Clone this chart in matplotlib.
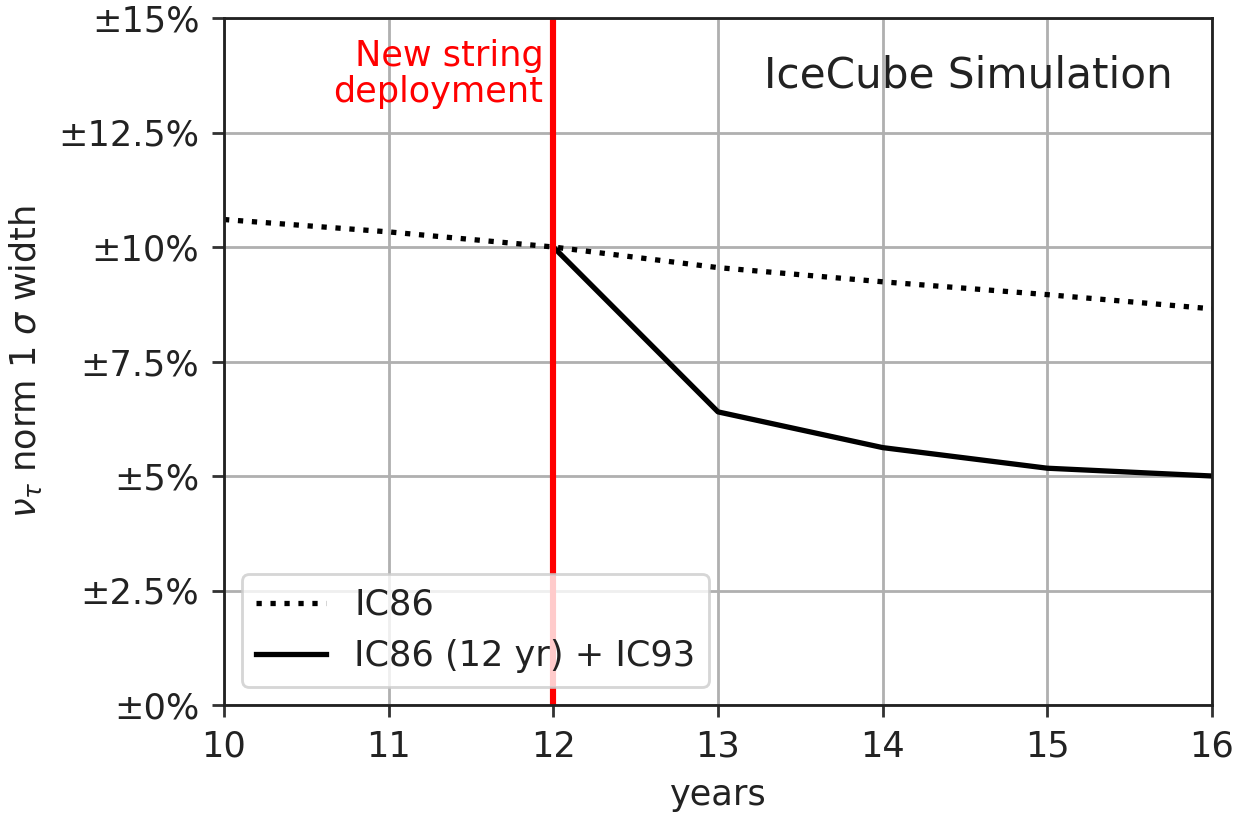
import matplotlib
matplotlib.use("Agg")
import matplotlib.pyplot as plt

years = [10, 11, 12, 13, 14, 15, 16]
ic86 = [10.6, 10.33, 10.0, 9.55, 9.24, 8.96, 8.65]
years_ic93 = [12, 13, 14, 15, 16]
ic86_ic93 = [10.0, 6.4, 5.62, 5.17, 5.0]
yticks = [0, 2.5, 5, 7.5, 10, 12.5, 15]
yticklabels = ["±0%", "±2.5%", "±5%", "±7.5%", "±10%", "±12.5%", "±15%"]
xticks = [10, 11, 12, 13, 14, 15, 16]

k = 2.53
fs = 10 * k
fig = plt.figure(figsize=(12.37, 8.18), dpi=100)
ax = fig.add_axes([224/1237, 1-705/818, (1212-224)/1237, (705-18)/818])

ax.plot(years, ic86, color="black", ls=":", lw=1.5*k, label="IC86")
ax.plot(years_ic93, ic86_ic93, color="black", ls="-", lw=1.5*k, label="IC86 (12 yr) + IC93")
ax.axvline(12, color="red", lw=1.75*k)

ax.set_xlim(10, 16)
ax.set_ylim(0, 15)
ax.set_xticks(xticks)
ax.set_yticks(yticks)
ax.set_yticklabels(yticklabels)
ax.tick_params(labelsize=fs, width=0.8*k, length=3.5*k, pad=3.5*k,
               color="#333333", labelcolor="#222222")
for s in ax.spines.values():
    s.set_linewidth(0.8*k)
    s.set_color("#222222")
ax.grid(True, color="#b0b0b0", lw=0.8*k)

ax.set_xlabel("years", fontsize=fs, color="#222222", labelpad=4*k)
ax.set_ylabel(r"$\nu_\tau$ norm 1 $\sigma$ width", fontsize=fs, color="#222222", labelpad=4*k)

ax.text(0.96, 0.917, "IceCube Simulation", transform=ax.transAxes,
        ha="right", va="center", fontsize=12*k, color="#222222")
ax.text(11.94, 14.55, "New string\ndeployment", ha="right", va="top",
        fontsize=fs, color="red", linespacing=1.1)

leg = ax.legend(loc="lower left", fontsize=fs, framealpha=0.8,
                borderaxespad=0.5, handlelength=2.0)
leg.get_frame().set_linewidth(0.8*k)
for t in leg.get_texts():
    t.set_color("#222222")

fig.savefig("out.png", dpi=100)
